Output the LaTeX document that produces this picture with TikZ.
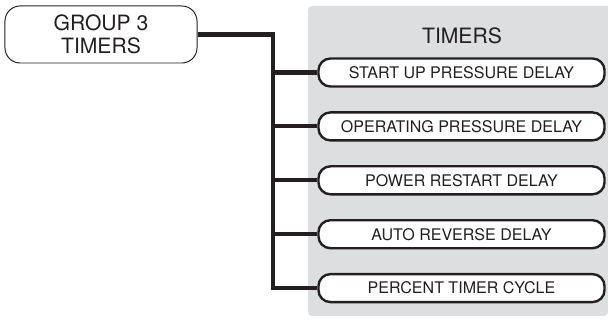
\documentclass[tikz,border=0pt]{standalone}
\usepackage{fontspec}
\setmainfont{TeX Gyre Heros}
\usepackage{xcolor}
\usetikzlibrary{positioning}
\definecolor{panelgray}{RGB}{221,222,223}
\definecolor{inkgray}{RGB}{35,31,32}

\begin{document}
\begin{tikzpicture}[
x=0.025cm,y=-0.025cm,
node distance=0.5875cm,
box/.style={draw=inkgray,line width=0.7pt,rounded corners=0.38cm,minimum width=4.8cm,minimum height=1.425cm,align=center,font=\fontsize{15}{16.5}\selectfont,text=inkgray},
item/.style={draw=inkgray,fill=white,line width=1.7pt,rounded corners=0.3cm,minimum width=7.15cm,minimum height=0.7cm,font=\fontsize{11.4}{13}\selectfont,text=inkgray},
link/.style={draw=inkgray,line width=2.9pt}
]
\useasboundingbox (0,0) rectangle (608,320);
\fill[panelgray,rounded corners=0.1cm] (308,6) -- (308,316) -- (608,316) [sharp corners] -- (608,6) [rounded corners=0.1cm] -- cycle;
\node[box] (grp) at (101,34.5) {GROUP 3\\TIMERS};
\node[font=\fontsize{15}{16.5}\selectfont,text=inkgray] (head) at (462,36) {TIMERS};
\node[item] (t1) at (461.5,72.5) {START UP PRESSURE DELAY};
\node[item,below=of t1] (t2) {OPERATING PRESSURE DELAY};
\node[item,below=of t2] (t3) {POWER RESTART DELAY};
\node[item,below=of t3] (t4) {AUTO REVERSE DELAY};
\node[item,below=of t4] (t5) {PERCENT TIMER CYCLE};
\coordinate (bus) at (273,34.5);
\draw[link] (grp.east) -- (bus) |- (t5.west);
\foreach \t in {t1,t2,t3,t4}
  \draw[link] (bus |- \t.west) -- (\t.west);
\end{tikzpicture}
\end{document}
